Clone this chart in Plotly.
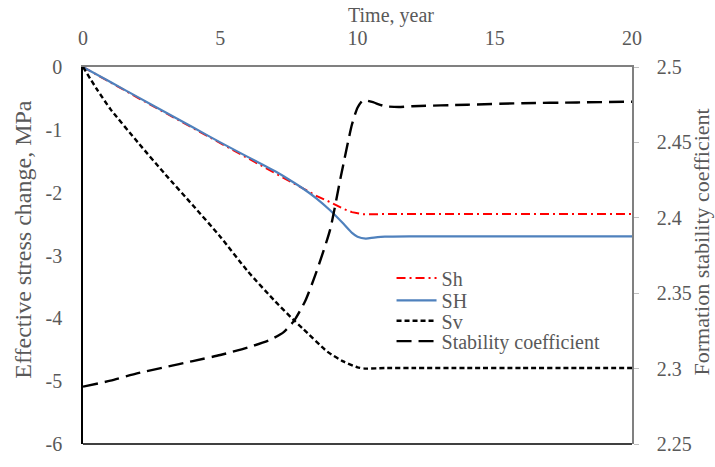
import plotly.graph_objects as go

# Time axis (years) and the four computed series
t_sh = [0, 1, 2, 3, 4, 5, 6, 7, 7.5, 8, 8.5, 9, 9.5, 9.8, 10.2, 10.6, 11, 12, 14, 16, 18, 20]
sh = [0, -0.25, -0.49, -0.73, -0.97, -1.21, -1.45, -1.68, -1.80, -1.93, -2.05, -2.15, -2.26, -2.31, -2.345,
      -2.345, -2.34, -2.34, -2.34, -2.34, -2.34, -2.34]

t_shh = [0, 1, 2, 3, 4, 5, 6, 7, 7.5, 8, 8.5, 9, 9.5, 9.8, 10.0, 10.3, 10.6, 11, 12, 14, 16, 18, 20]
shh = [0, -0.24, -0.48, -0.72, -0.96, -1.20, -1.43, -1.66, -1.79, -1.93, -2.09, -2.28, -2.50, -2.64, -2.70,
       -2.73, -2.715, -2.70, -2.695, -2.695, -2.695, -2.695, -2.695]

t_sv = [0, 0.5, 1, 2, 3, 4, 5, 6, 7, 7.66, 8, 8.9, 9.5, 10.0, 10.3, 11, 12, 14, 16, 18, 20]
sv = [0, -0.35, -0.67, -1.20, -1.71, -2.20, -2.70, -3.25, -3.73, -4.02, -4.16, -4.53, -4.69, -4.78, -4.80,
      -4.79, -4.79, -4.79, -4.79, -4.79, -4.79]

t_sc = [0, 1, 2, 3, 4, 5, 6, 6.8, 7.3, 7.7, 8.1, 8.5, 9, 9.4, 9.8, 10.0, 10.2, 10.5, 11.0, 11.5, 12, 14, 16, 18, 20]
sc = [2.288, 2.292, 2.297, 2.301, 2.305, 2.309, 2.314, 2.319, 2.324, 2.332, 2.345, 2.364, 2.392, 2.428, 2.462,
      2.473, 2.478, 2.477, 2.474, 2.4735, 2.474, 2.475, 2.476, 2.4765, 2.477]

# Axis tick labels (plain hyphen minus signs)
y1_ticks = [0, -1, -2, -3, -4, -5, -6]
y1_labels = ["0", "-1", "-2", "-3", "-4", "-5", "-6"]
y2_ticks = [2.25, 2.3, 2.35, 2.4, 2.45, 2.5]
y2_labels = ["2.25", "2.3", "2.35", "2.4", "2.45", "2.5"]

FONT = "'Liberation Serif', 'Times New Roman', serif"
GREY = "#595959"
TF = dict(family=FONT, size=20, color=GREY)

fig = go.Figure()
fig.add_trace(go.Scatter(x=t_sh, y=sh, name="Sh", mode="lines", legend="legend",
                         line=dict(color="#FF0000", width=2, dash="9px,4px,2px,4px")))
fig.add_trace(go.Scatter(x=t_shh, y=shh, name="SH", mode="lines", legend="legend2",
                         line=dict(color="#4F81BD", width=2.2, shape="spline", smoothing=0.6)))
fig.add_trace(go.Scatter(x=t_sv, y=sv, name="Sv", mode="lines", legend="legend3",
                         line=dict(color="#000000", width=2.4, dash="5px,3px", shape="spline", smoothing=0.6)))
fig.add_trace(go.Scatter(x=t_sc, y=sc, name="Stability coefficient", mode="lines", yaxis="y2", legend="legend4",
                         line=dict(color="#000000", width=2.4, dash="15px,7px", shape="spline", smoothing=0.6)))


def legend_box(yc):
    return dict(x=0.562, y=yc, xanchor="left", yanchor="middle", bgcolor="rgba(0,0,0,0)",
                font=TF, itemwidth=40, borderwidth=0)


fig.update_layout(
    width=715, height=467,
    margin=dict(l=83, r=83, t=67, b=12),
    paper_bgcolor="white", plot_bgcolor="white",
    font=TF,
    showlegend=True,
    legend=legend_box(0.440),
    legend2=legend_box(0.381),
    legend3=legend_box(0.327),
    legend4=legend_box(0.273),
    xaxis=dict(side="top", range=[0, 20], dtick=5, tick0=0, showgrid=False, zeroline=False,
               showline=True, linecolor="#808080", linewidth=1.5, ticks="", ticklabelstandoff=12,
               tickfont=TF),
    yaxis=dict(range=[-6, 0], tickvals=y1_ticks, ticktext=y1_labels, showgrid=False, zeroline=False,
               showline=True, linecolor="#000000", linewidth=1.5, ticks="", ticklabelstandoff=15,
               tickfont=TF),
    yaxis2=dict(overlaying="y", side="right", range=[2.25, 2.5], tickvals=y2_ticks, ticktext=y2_labels,
                showgrid=False, zeroline=False, showline=True, linecolor="#808080", linewidth=1.5,
                ticks="outside", ticklen=5, tickcolor="#BFBFBF", ticklabelstandoff=14,
                tickfont=TF),
    shapes=[dict(type="line", xref="paper", yref="paper", x0=0, x1=1, y0=0, y1=0,
                 line=dict(color="#000000", width=1.5))],
    annotations=[
        dict(text="Time, year", xref="paper", yref="paper", x=0.561, y=1.137,
             xanchor="center", yanchor="middle", showarrow=False, font=TF),
        dict(text="Effective stress change, MPa", xref="paper", yref="paper", x=-0.110, y=0.541,
             xanchor="center", yanchor="middle", showarrow=False, textangle=-90,
             font=dict(family=FONT, size=24, color=GREY)),
        dict(text="Formation stability coefficient", xref="paper", yref="paper", x=1.126, y=0.535,
             xanchor="center", yanchor="middle", showarrow=False, textangle=-90,
             font=dict(family=FONT, size=22, color=GREY)),
    ],
)

fig.write_html("out.html")
